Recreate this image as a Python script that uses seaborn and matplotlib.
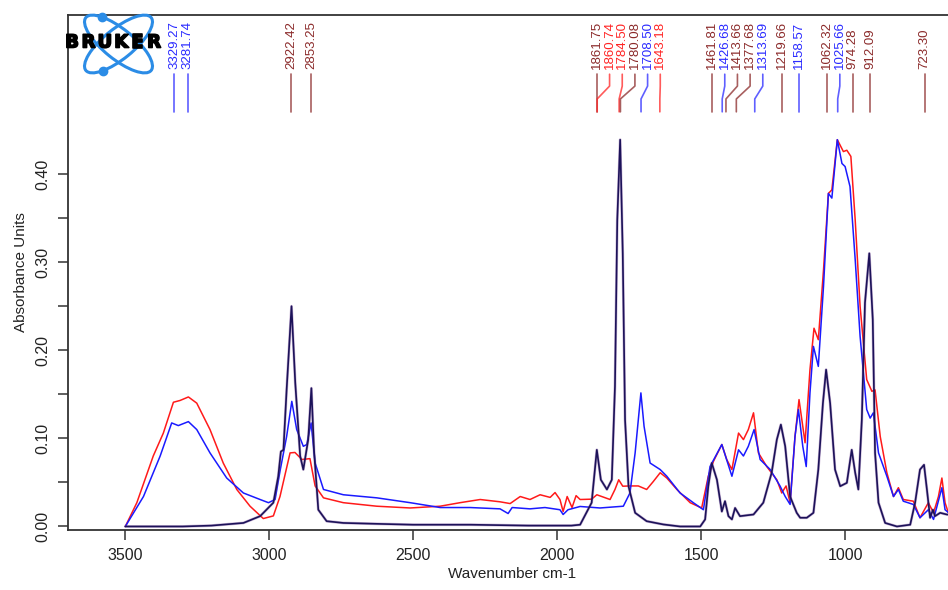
import numpy as np
import pandas as pd
import matplotlib
matplotlib.use('Agg')
import matplotlib.pyplot as plt
import matplotlib.transforms as mtransforms
import matplotlib.patheffects as pe
from matplotlib.patches import Ellipse
import seaborn as sns

# spectra (wavenumber cm-1 / absorbance units)
red_wn = [3499, 3459, 3402, 3367, 3332, 3309, 3280, 3251, 3205, 3159, 3112, 3066, 3020, 2985,
          2962, 2927, 2910, 2886, 2858, 2840, 2811, 2742, 2626, 2510, 2406, 2337, 2267, 2198,
          2163, 2128, 2094, 2059, 2024, 2007, 1990, 1979, 1965, 1948, 1934, 1920, 1880, 1862,
          1816, 1799, 1786, 1772, 1747, 1718, 1689, 1666, 1642, 1619, 1584, 1538, 1498, 1475,
          1457, 1428, 1411, 1393, 1370, 1353, 1336, 1318, 1301, 1272, 1237, 1220, 1205, 1191,
          1174, 1160, 1139, 1122, 1108, 1093, 1075, 1058, 1046, 1027, 1006, 994, 980, 965,
          948, 925, 907, 896, 878, 855, 832, 815, 798, 763, 740, 711, 693, 676, 664, 653, 642, 620]
red_ab = [0.0, 0.027, 0.080, 0.106, 0.141, 0.143, 0.147, 0.140, 0.110, 0.072, 0.042, 0.023, 0.009, 0.012,
          0.034, 0.0835, 0.084, 0.076, 0.077, 0.046, 0.0325, 0.027, 0.023, 0.021, 0.023, 0.027, 0.0306, 0.028,
          0.026, 0.034, 0.0306, 0.036, 0.033, 0.0385, 0.0306, 0.017, 0.034, 0.0215, 0.035, 0.0306, 0.031, 0.036,
          0.0306, 0.042, 0.053, 0.0457, 0.046, 0.046, 0.042, 0.051, 0.061, 0.055, 0.042, 0.027, 0.021, 0.057,
          0.074, 0.093, 0.076, 0.0646, 0.106, 0.0986, 0.110, 0.129, 0.0835, 0.068, 0.053, 0.038, 0.046, 0.027,
          0.102, 0.144, 0.095, 0.178, 0.225, 0.212, 0.291, 0.378, 0.382, 0.439, 0.4255, 0.427, 0.420, 0.348,
          0.250, 0.1667, 0.1534, 0.155, 0.102, 0.061, 0.034, 0.044, 0.0306, 0.0287, 0.0099, 0.027, 0.0155,
          0.034, 0.055, 0.027, 0.016, 0.014]

blue_wn = [3499, 3436, 3378, 3338, 3315, 3280, 3251, 3205, 3147, 3089, 3031, 3002, 2979, 2962,
           2939, 2921, 2904, 2881, 2869, 2854, 2840, 2811, 2742, 2626, 2510, 2406, 2302, 2198,
           2170, 2156, 2094, 2042, 1990, 1979, 1962, 1920, 1851, 1770, 1747, 1729, 1709, 1698,
           1677, 1642, 1619, 1573, 1527, 1492, 1469, 1428, 1393, 1370, 1353, 1336, 1316, 1295,
           1260, 1226, 1208, 1191, 1174, 1162, 1147, 1135, 1122, 1110, 1093, 1075, 1058, 1046,
           1027, 1011, 1000, 983, 965, 948, 925, 913, 902, 884, 855, 832, 815, 798, 763, 740,
           711, 693, 664, 653, 642, 620]
blue_ab = [0.0, 0.034, 0.080, 0.1175, 0.1145, 0.119, 0.110, 0.0835, 0.055, 0.038, 0.0306, 0.027, 0.0306, 0.0627,
           0.102, 0.142, 0.110, 0.091, 0.093, 0.1175, 0.072, 0.042, 0.036, 0.0325, 0.027, 0.0215, 0.0215, 0.020,
           0.0147, 0.0215, 0.020, 0.0215, 0.019, 0.0136, 0.019, 0.0227, 0.021, 0.023, 0.038, 0.0835, 0.1516, 0.1137,
           0.072, 0.0646, 0.057, 0.038, 0.027, 0.019, 0.068, 0.093, 0.057, 0.087, 0.080, 0.091, 0.110, 0.076,
           0.0646, 0.046, 0.034, 0.025, 0.102, 0.1327, 0.091, 0.068, 0.1516, 0.2044, 0.1817, 0.2725, 0.378, 0.3727,
           0.439, 0.412, 0.4085, 0.3858, 0.303, 0.216, 0.1327, 0.123, 0.129, 0.0835, 0.057, 0.034, 0.042, 0.0287,
           0.025, 0.0099, 0.019, 0.008, 0.044, 0.019, 0.016, 0.014]

dark_wn = [3499, 3300, 3200, 3089, 3031, 2985, 2968, 2959, 2950, 2939, 2922, 2909, 2892, 2881,
           2864, 2853, 2844, 2829, 2800, 2742, 2626, 2500, 2300, 2100, 1950, 1920, 1880, 1862,
           1848, 1827, 1810, 1799, 1791, 1781, 1772, 1764, 1752, 1729, 1689, 1631, 1573, 1503,
           1486, 1475, 1463, 1445, 1428, 1417, 1405, 1393, 1382, 1365, 1318, 1284, 1255, 1237,
           1223, 1208, 1191, 1168, 1156, 1133, 1110, 1093, 1077, 1066, 1052, 1035, 1017, 994,
           977, 965, 954, 942, 931, 916, 904, 896, 884, 861, 820, 774, 757, 740, 726, 716,
           705, 695, 688, 670, 647, 620]
dark_ab = [0.0, 0.0, 0.001, 0.004, 0.0117, 0.027, 0.057, 0.085, 0.087, 0.155, 0.250, 0.163, 0.080, 0.0646,
           0.0986, 0.157, 0.087, 0.019, 0.006, 0.004, 0.003, 0.002, 0.002, 0.001, 0.001, 0.002, 0.027, 0.087,
           0.053, 0.042, 0.053, 0.159, 0.348, 0.439, 0.310, 0.121, 0.0457, 0.0155, 0.006, 0.0023, 0.0, 0.0,
           0.008, 0.0457, 0.072, 0.053, 0.017, 0.0287, 0.0117, 0.008, 0.021, 0.0117, 0.0136, 0.027, 0.061, 0.0986,
           0.1156, 0.091, 0.034, 0.0155, 0.0099, 0.0099, 0.0155, 0.0646, 0.140, 0.178, 0.140, 0.0646, 0.0457, 0.0495,
           0.087, 0.061, 0.042, 0.121, 0.254, 0.310, 0.235, 0.0835, 0.027, 0.004, 0.0, 0.002, 0.027, 0.0646, 0.070, 0.042,
           0.0099, 0.019, 0.0117, 0.0155, 0.0136, 0.013]

peak_wn = [3329.27, 3281.74, 2922.42, 2853.25, 1861.75, 1860.74, 1784.50, 1780.08, 1708.50, 1643.18,
           1461.81, 1426.68, 1413.66, 1377.68, 1313.69, 1219.66, 1158.57, 1062.32, 1025.66, 974.28,
           912.09, 723.30]
peak_src = ['blue', 'blue', 'dark', 'dark', 'dark', 'red', 'red', 'dark', 'blue', 'red',
            'dark', 'blue', 'dark', 'dark', 'blue', 'dark', 'blue', 'dark', 'blue', 'dark',
            'dark', 'dark']

label_col = {'red': '#ff2424', 'blue': '#2a2aff', 'dark': '#8b2a2a'}

sns.set_style('ticks')
plt.rcParams['font.family'] = ['Liberation Sans', 'DejaVu Sans']

W, H = 948, 590
fig = plt.figure(figsize=(W / 100, H / 100), dpi=100)
ax = fig.add_axes([68 / W, 60 / H, 888 / W, 515 / H])

sns.lineplot(x=red_wn, y=red_ab, color='#ff1a1a', lw=1.1, sort=False, estimator=None, ax=ax)
sns.lineplot(x=blue_wn, y=blue_ab, color='#1a1aff', lw=1.1, sort=False, estimator=None, ax=ax)
sns.lineplot(x=dark_wn, y=dark_ab, color='#7a4a9a', lw=2.0, alpha=0.4, sort=False, estimator=None, ax=ax)
sns.lineplot(x=dark_wn, y=dark_ab, color='#1c1259', lw=1.2, sort=False, estimator=None, ax=ax)
for ln in ax.get_lines():
    ln.set_solid_joinstyle('round')

ax.set_xlim(3698, 615)
ax.set_ylim(-0.004, 0.5805)
ax.set_xticks([3500, 3000, 2500, 2000, 1500, 1000])
ax.set_xticklabels(['3500', '3000', '2500', '2000', '1500', '1000'])
ax.set_yticks([0.0, 0.1, 0.2, 0.3, 0.4])
ax.set_yticklabels(['0.00', '0.10', '0.20', '0.30', '0.40'])
ax.set_yticks([0.05, 0.15, 0.25, 0.35], minor=True)
ax.tick_params(axis='both', which='both', length=7, width=1.1, color='#333333',
               labelsize=11.5, labelcolor='#222222', pad=6)
for lab in ax.get_yticklabels():
    lab.set_rotation(90)
    lab.set_va('center')
ax.set_xlabel('Wavenumber cm-1', fontsize=11, color='#222222', labelpad=3)
ax.set_ylabel('Absorbance Units', fontsize=11, color='#222222', labelpad=5)
for side in ['left', 'top', 'bottom']:
    ax.spines[side].set_linewidth(1.3)
    ax.spines[side].set_color('#333333')
ax.spines['right'].set_visible(False)

# peak labels, pushed apart so they do not overlap
gap = 44
lab_wn = []
for i, w in enumerate(peak_wn):
    if i > 0 and w > lab_wn[-1] - gap:
        w = lab_wn[-1] - gap
    lab_wn.append(w)

trans = mtransforms.blended_transform_factory(ax.transData, ax.transAxes)
for w, lw_, src in zip(peak_wn, lab_wn, peak_src):
    c = label_col[src]
    ax.plot([lw_, lw_, w, w], [0.885, 0.862, 0.837, 0.812], color=c, lw=1.2,
            alpha=0.75, transform=trans, clip_on=False)
    ax.text(lw_, 0.895, '%.2f' % w, rotation=90, ha='center', va='bottom',
            fontsize=9.5, color=c, transform=trans)

# Bruker logo, drawn in pixel coordinates
lax = fig.add_axes([60 / W, (H - 80) / H, 115 / W, 72 / H])
lax.set_xlim(60, 175)
lax.set_ylim(H - 80, H - 8)
lax.axis('off')
cx, cy = 118.5, H - 44
ea, eb = 42, 15
blue_logo = '#2b8ce6'
t = np.linspace(0, 2 * np.pi, 600)
pts = {}
for ang in [141, 39]:
    lax.add_patch(Ellipse((cx, cy), 2 * ea, 2 * eb, angle=ang, fill=False, ec=blue_logo, lw=2.2))
    th = np.deg2rad(ang)
    ex = cx + ea * np.cos(t) * np.cos(th) - eb * np.sin(t) * np.sin(th)
    ey = cy + ea * np.cos(t) * np.sin(th) + eb * np.sin(t) * np.cos(th)
    pts[ang] = (ex, ey)
ex, ey = pts[141]
k = np.argmin(np.abs(ex - 101.5) + 1000 * (ey < cy + 15))
lax.plot(ex[k], ey[k], 'o', color=blue_logo, ms=6)
ex, ey = pts[39]
k = np.argmin(np.abs(ex - 102.5) + 1000 * (ey > cy - 15))
lax.plot(ex[k], ey[k], 'o', color=blue_logo, ms=6)
for i, ch in enumerate('BRUKER'):
    lax.text(72 + i * 16.4, H - 42.5, ch, ha='center', va='center', fontsize=13,
             fontweight='heavy', family='DejaVu Sans', color='black',
             path_effects=[pe.withStroke(linewidth=1.2, foreground='black')])

fig.savefig('out.png', dpi=100)
